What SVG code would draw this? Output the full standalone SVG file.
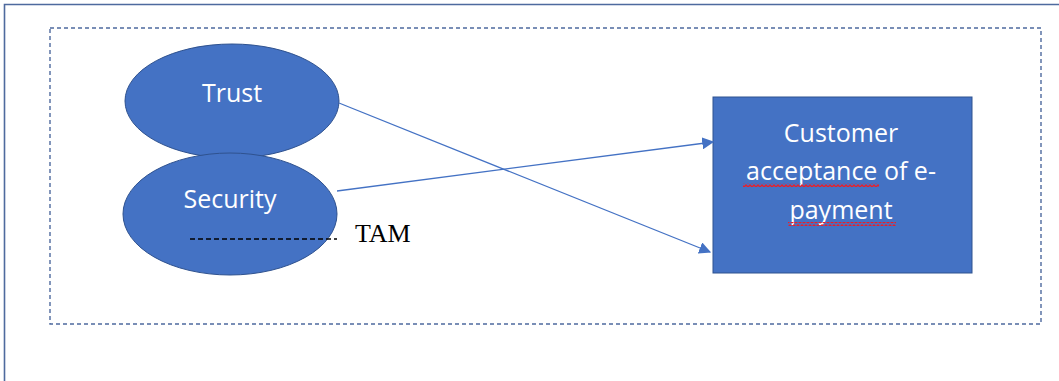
<svg xmlns="http://www.w3.org/2000/svg" width="1059" height="381" viewBox="0 0 1059 381">
  <style>
    .shape { fill: #4472C4; stroke: #2F528F; stroke-width: 1; }
    .label { fill: #FFFFFF; font-family: "Open Sans", Lato, sans-serif; font-size: 25px; text-anchor: middle; }
    .conn { stroke: #4472C4; stroke-width: 1.3; fill: none; }
  </style>
  <defs>
    <marker id="arrow" viewBox="0 0 10 10" refX="9" refY="5" markerWidth="12" markerHeight="12" markerUnits="userSpaceOnUse" orient="auto">
      <path d="M0,0 L10,5 L0,10 Z" fill="#4472C4"/>
    </marker>
    <!-- red squiggle used for spell-check underlines -->
    <pattern id="wave" width="4" height="4" patternUnits="userSpaceOnUse">
      <path d="M0,3 L2,1 L4,3" stroke="#E8202A" stroke-width="1.4" fill="none"/>
    </pattern>
  </defs>

  <rect width="1059" height="381" fill="#FFFFFF"/>

  <!-- outer frame -->
  <path d="M4.5,381 V4.5 H1059" fill="none" stroke="#4E6A9E" stroke-width="1.6"/>

  <!-- dashed boundary -->
  <rect x="50" y="28" width="991" height="296" fill="none" stroke="#4E6A9E" stroke-width="1.4" stroke-dasharray="4,3"/>

  <g id="trust">
    <ellipse class="shape" cx="232" cy="101" rx="107" ry="57"/>
    <text class="label" x="232" y="102">Trust</text>
  </g>

  <g id="security">
    <ellipse class="shape" cx="230" cy="214" rx="107" ry="61"/>
    <text class="label" x="230" y="208">Security</text>
  </g>

  <g id="tam">
    <line x1="190" y1="239" x2="337" y2="239" stroke="#000000" stroke-width="1.5" stroke-dasharray="5,3"/>
    <text x="355" y="242" font-family="'Liberation Serif', serif" font-size="26" fill="#000000">TAM</text>
  </g>

  <g id="acceptance">
    <rect class="shape" x="713" y="97" width="259" height="176"/>
    <text class="label" x="841" y="142">Customer</text>
    <text class="label" x="841" y="180">acceptance of e-</text>
    <text class="label" x="841" y="219">payment</text>
    <rect x="743" y="183" width="136" height="4" fill="url(#wave)"/>
    <rect x="788" y="222" width="108" height="4" fill="url(#wave)"/>
  </g>

  <g id="connectors">
    <line class="conn" x1="339" y1="103" x2="710" y2="252" marker-end="url(#arrow)"/>
    <line class="conn" x1="337" y1="191" x2="713" y2="142" marker-end="url(#arrow)"/>
  </g>
</svg>
